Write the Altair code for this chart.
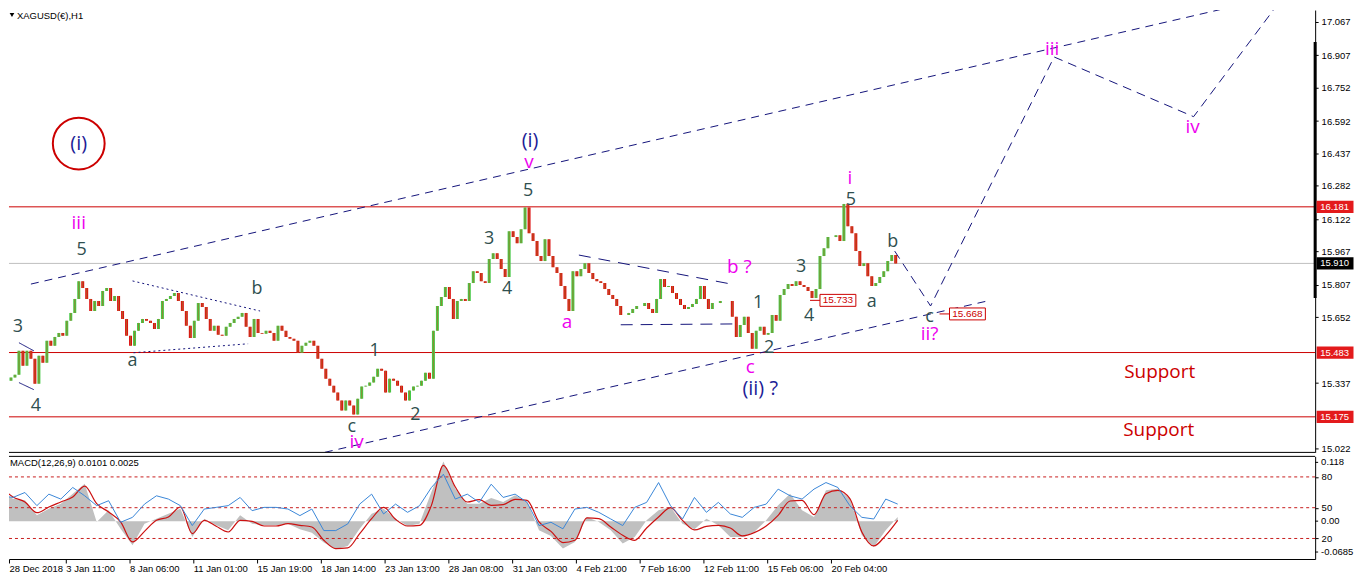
import json
import altair as alt
import pandas as pd

# ---------------- data ----------------
# closes of 4-hour groups of H1 bars (28 Dec 2018 -> 21 Feb 2019)
closes = [
    15.277, 15.348, 15.363, 15.377, 15.491, 15.420, 15.491, 15.453, 15.334, 15.468,
    15.434, 15.539, 15.515, 15.558, 15.577, 15.563, 15.635, 15.673, 15.740, 15.825,
    15.792, 15.740, 15.682, 15.730, 15.706, 15.778, 15.792, 15.730, 15.754, 15.682,
    15.644, 15.563, 15.515, 15.587, 15.625, 15.644, 15.635, 15.625, 15.596, 15.644,
    15.730, 15.740, 15.754, 15.768, 15.730, 15.682, 15.611, 15.553, 15.635, 15.720,
    15.701, 15.644, 15.587, 15.611, 15.568, 15.563,
    15.606, 15.625, 15.644, 15.654, 15.673, 15.606, 15.558, 15.644, 15.577, 15.573,
    15.587, 15.577, 15.539, 15.611, 15.587, 15.558, 15.549, 15.539, 15.482, 15.515,
    15.530, 15.539, 15.515, 15.453, 15.405, 15.358, 15.324, 15.291, 15.253, 15.205,
    15.253, 15.229, 15.186, 15.262, 15.320, 15.324, 15.339, 15.367, 15.405, 15.396,
    15.291, 15.358, 15.348, 15.324, 15.291, 15.253, 15.301, 15.320, 15.324, 15.348,
    15.386, 15.358, 15.587, 15.706, 15.749, 15.797, 15.740, 15.644, 15.730, 15.740,
    15.730, 15.816, 15.873, 15.864, 15.825, 15.816, 15.931, 15.959, 15.931, 15.883,
    15.845, 16.064, 16.036, 16.007, 16.074, 16.178, 16.055, 16.017, 15.945, 15.921,
    16.026, 15.945, 15.892, 15.864, 15.802, 15.740, 15.682, 15.873, 15.849, 15.883,
    15.911, 15.864, 15.835, 15.825, 15.816, 15.787, 15.759, 15.740, 15.706, 15.663,
    15.663, 15.673, 15.692, 15.706, 15.706, 15.720, 15.692, 15.673, 15.740, 15.835,
    15.797, 15.802, 15.768, 15.740, 15.711, 15.692, 15.701, 15.716, 15.740, 15.802,
    15.740, 15.692, 15.720, 15.720, 15.730, 15.730, 15.730, 15.654, 15.558, 15.615,
    15.654, 15.577, 15.501, 15.587, 15.606, 15.568, 15.577, 15.663, 15.635, 15.759,
    15.787, 15.811, 15.802, 15.825, 15.806, 15.797, 15.778, 15.744, 15.787, 15.945,
    15.983, 16.036, 16.036, 16.045, 16.017, 16.195, 16.088, 16.055, 15.969, 15.897,
    15.911, 15.849, 15.802, 15.816, 15.845, 15.873, 15.921, 15.950, 15.910,
]

# MACD histogram (grey), signal (red) and oscillator (blue), every 12 bars
macd_hist = [
    0.0532, 0.0411, 0.0381, 0.0109, 0.0230, 0.0321, 0.0502, 0.0684, -0.0012, 0.0200,
    -0.0133, -0.0436, -0.0042, 0.0048, 0.0139, 0.0230, -0.0284, 0.0048, -0.0073, -0.0163,
    0.0109, -0.0042, -0.0073, -0.0073, -0.0042, -0.0145, -0.0206, -0.0387, -0.0508, -0.0448,
    -0.0133, 0.0139, 0.0230, 0.0048, -0.0085, -0.0042, 0.0532, 0.1089, 0.0593, 0.0321,
    0.0321, 0.0424, 0.0351, 0.0472, 0.0351, -0.0163, -0.0266, -0.0496, -0.0375, 0.0079,
    -0.0012, -0.0163, -0.0405, -0.0284, 0.0018, 0.0200, 0.0260, -0.0042, -0.0145, 0.0048,
    -0.0073, -0.0284, -0.0284, -0.0194, 0.0018, 0.0290, 0.0502, 0.0200, 0.0079, 0.0563,
    0.0593, 0.0411, -0.0254, -0.0466, -0.0163, 0.0079,
]
macd_signal = [
    0.0623, 0.0442, 0.0351, 0.0157, 0.0260, 0.0351, 0.0442, 0.0641, 0.0321, 0.0169,
    -0.0012, -0.0375, -0.0182, 0.0018, 0.0079, 0.0260, -0.0224, 0.0018, -0.0091, -0.0194,
    0.0018, 0.0000, -0.0085, -0.0085, -0.0042, -0.0073, -0.0103, -0.0345, -0.0496, -0.0484,
    -0.0224, 0.0048, 0.0254, 0.0036, -0.0085, -0.0073, 0.0290, 0.1016, 0.0623, 0.0351,
    0.0393, 0.0290, 0.0303, 0.0399, 0.0381, -0.0012, -0.0182, -0.0387, -0.0345, 0.0061,
    0.0048, -0.0103, -0.0254, -0.0345, -0.0121, 0.0079, 0.0248, 0.0018, -0.0157, -0.0091,
    -0.0073, -0.0121, -0.0266, -0.0206, -0.0085, 0.0109, 0.0369, 0.0381, 0.0121, 0.0502,
    0.0563, 0.0411, -0.0194, -0.0448, -0.0254, 0.0018,
]
osc_line = [
    61.6, 60.0, 64.8, 52.0, 63.2, 58.4, 69.7, 61.6, 52.0, 56.8,
    35.8, 40.6, 53.5, 61.6, 58.4, 52.0, 32.6, 48.7, 50.3, 52.0,
    60.0, 47.1, 50.3, 50.3, 48.7, 42.3, 48.7, 27.7, 27.7, 34.2,
    53.5, 63.2, 43.9, 53.5, 45.5, 51.9, 69.7, 82.6, 58.4, 63.2,
    55.2, 72.9, 60.0, 63.2, 55.2, 32.6, 35.8, 29.4, 48.7, 50.3,
    45.5, 39.0, 32.6, 50.3, 55.2, 74.5, 51.9, 39.0, 60.0, 45.5,
    55.2, 43.9, 40.6, 50.3, 53.5, 68.1, 61.6, 58.4, 68.1, 74.5,
    69.7, 51.9, 40.6, 39.0, 58.4, 53.5,
]

date_labels = ["28 Dec 2018", "3 Jan 11:00", "8 Jan 06:00", "11 Jan 01:00", "15 Jan 19:00",
               "18 Jan 14:00", "23 Jan 13:00", "28 Jan 08:00", "31 Jan 03:00", "4 Feb 21:00",
               "7 Feb 16:00", "12 Feb 11:00", "15 Feb 06:00", "20 Feb 04:00"]
price_ticks = [17.067, 16.907, 16.752, 16.592, 16.437, 16.282, 16.122, 15.967,
               15.807, 15.652, 15.337, 15.022]
level_prices = [16.181, 15.483, 15.175]
last_price = 15.910
osc_levels = [80, 50, 20]
marker_prices = [15.733, 15.668]

HOURS_PER_CANDLE = 4
HOURS_PER_MACD = 12
HOURS_PER_LABEL = 64

# wave labels: (text, bar index, price, kind)
wave_labels = [
    ("(i)", 78, 16.484, "navy"),
    ("iii", 78, 16.102, "mag"), ("5", 81, 15.974, "dark"), ("3", 17, 15.606, "dark"),
    ("4", 35, 15.229, "dark"), ("a", 132, 15.444, "dark"), ("b", 257, 15.787, "dark"),
    ("c", 352, 15.124, "dark"), ("iv", 357, 15.052, "mag"), ("1", 375, 15.491, "dark"),
    ("2", 416, 15.186, "dark"), ("(i)", 531, 16.498, "navy"), ("v", 530, 16.398, "mag"),
    ("5", 529, 16.255, "dark"), ("3", 490, 16.026, "dark"), ("4", 508, 15.787, "dark"),
    ("a", 568, 15.630, "mag"), ("b ?", 741, 15.892, "mag"), ("1", 760, 15.720, "dark"),
    ("2", 771, 15.506, "dark"), ("c", 752, 15.415, "mag"), ("(ii) ?", 762, 15.310, "navy"),
    ("3", 803, 15.892, "dark"), ("4", 811, 15.659, "dark"), ("i", 852, 16.317, "mag"),
    ("5", 853, 16.212, "dark"), ("b", 895, 16.012, "dark"), ("a", 874, 15.725, "dark"),
    ("c", 932, 15.651, "dark"), ("ii?", 932, 15.571, "mag"), ("iii", 1055, 16.938, "mag"),
    ("iv", 1196, 16.565, "mag"), ("Support", 1163, 15.391, "sup"), ("Support", 1162, 15.110, "sup"),
]

# drawn lines: name -> (style, [(bar, price), ...])
paths = {
    "upper_channel": ("channel", [(30, 15.811), (1290, 17.199)]),
    "lower_channel": ("channel", [(325, 15.005), (990, 15.730)]),
    "projection": ("projection", [(897, 15.969), (933, 15.706), (1057, 16.899), (1197, 16.613), (1295, 17.238)]),
    "tri_top": ("dotted", [(132, 15.826), (260, 15.682)]),
    "tri_bottom": ("dotted", [(133, 15.482), (248, 15.525)]),
    "w3": ("solid", [(18, 15.530), (33, 15.491)]),
    "w4": ("solid", [(18, 15.339), (33, 15.305)]),
    "feb_top": ("dashed", [(580, 15.950), (733, 15.811)]),
    "feb_bottom": ("dashed", [(622, 15.616), (735, 15.620)]),
}
marker_links = [(812, 822), (942, 953)]
marker_box_bars = [840, 970]

# ---------------- layout / style ----------------
W, H_MAIN, H_MACD = 1311, 444, 103
xs = alt.Scale(domain=[8, 1319], nice=False, zero=False)
ps = alt.Scale(domain=[15.0046, 17.1238], nice=False, zero=False)
ms = alt.Scale(domain=[-0.0685, 0.118], nice=False, zero=False)
oscs = alt.Scale(domain=[0, 100], nice=False, zero=False)
AXF = "Liberation Sans"
WF = "Open Sans"
NAVY = "#14147a"
RED = "#cc0000"
colors = {"navy": "#1c1c96", "mag": "#ee00ee", "dark": "#2f4f4f", "sup": "#cc0000"}
sizes = {"navy": 20, "mag": 19, "dark": 18, "sup": 19}
one = pd.DataFrame({"k": [0]})
BOX = "M-1,-0.333H1V0.333H-1Z"

xn = alt.X("t:Q", scale=xs, axis=None)
price_axis = alt.Axis(orient="right", values=price_ticks, format=".3f", title=None, grid=False,
                      labelFont=AXF, labelFontSize=9.5, labelColor="#000", tickColor="#000",
                      tickSize=3, domainColor="#000", labelPadding=3, labelOverlap=False,
                      labelFlush=False)


def py(field):
    return alt.Y(field, type="quantitative", scale=ps, axis=price_axis)


# ---------------- main panel ----------------
levels = alt.Chart(pd.DataFrame({"p": level_prices})).mark_rule(color=RED, strokeWidth=1).encode(y=py("p"))
cur = alt.Chart(pd.DataFrame({"p": [last_price]})).mark_rule(color="#c0c0c0", strokeWidth=1).encode(y=py("p"))

opens = [closes[0]] + closes[:-1]
cdf = pd.DataFrame({"t": [HOURS_PER_CANDLE * i + 2 for i in range(len(closes))], "o": opens, "c": closes})
cdf["lo"] = cdf[["o", "c"]].min(axis=1)
cdf["hi"] = cdf[["o", "c"]].max(axis=1)
cdf["dir"] = ["up" if c >= o else "down" for o, c in zip(opens, closes)]
candles = alt.Chart(cdf).mark_rule(strokeWidth=3, clip=True).encode(
    x=xn, y=py("lo"), y2="hi:Q",
    color=alt.Color("dir:N", scale=alt.Scale(domain=["up", "down"], range=["#46c846", "#dd1010"]), legend=None))
wicks = alt.Chart(cdf).mark_rule(strokeWidth=1, clip=True, color="#a8742a", opacity=0.75).encode(
    x=xn, y=py("lo"), y2="hi:Q")

rows = []
for name, (style, pts) in paths.items():
    for j, (t, p) in enumerate(pts):
        rows.append({"id": name, "style": style, "ord": j, "t": t, "p": p})
ldf = pd.DataFrame(rows)
lines = alt.Chart(ldf).mark_line(clip=True, color=NAVY, strokeWidth=1).encode(
    x=xn, y=py("p"), detail="id:N", order="ord:Q",
    strokeDash=alt.StrokeDash("style:N", legend=None, scale=alt.Scale(
        domain=["channel", "projection", "dotted", "solid", "dashed"],
        range=[[8, 6], [9, 6], [2, 3], [1, 0], [12, 8]])))

mrows = []
for i, ((a, b), p) in enumerate(zip(marker_links, marker_prices)):
    mrows += [{"id": i, "t": a, "p": p}, {"id": i, "t": b, "p": p}]
links = alt.Chart(pd.DataFrame(mrows)).mark_line(color=RED, strokeWidth=1).encode(
    x=xn, y=py("p"), detail="id:N")
bdf = pd.DataFrame({"t": marker_box_bars, "p": marker_prices, "lab": [f"{v:.3f}" for v in marker_prices]})
boxes = alt.Chart(bdf).mark_point(shape=BOX, size=1296, fill="white", stroke=RED, strokeWidth=1,
                                  opacity=1, fillOpacity=1).encode(x=xn, y=py("p"))
box_txt = alt.Chart(bdf).mark_text(color=RED, font=AXF, fontSize=10).encode(
    x=xn, y=py("p"), text="lab:N")

circle = alt.Chart(pd.DataFrame({"t": [78], "p": [16.484]})).mark_point(
    shape="circle", size=2704, filled=False, stroke=RED, strokeWidth=2, opacity=1).encode(
    x=xn, y=py("p"))

wdf = pd.DataFrame([{"txt": s, "t": t, "p": p, "col": colors[k], "fs": sizes[k]} for s, t, p, k in wave_labels])
waves = alt.Chart(wdf).mark_text(font=WF, align="center", baseline="middle").encode(
    x=xn, y=py("p"), text="txt:N",
    color=alt.Color("col:N", scale=None), size=alt.Size("fs:Q", scale=None))

title_txt = alt.Chart(one).mark_text(text="XAGUSD(€),H1", align="left", baseline="top", font=AXF,
                                     fontSize=9.5, color="#000").encode(x=alt.value(8), y=alt.value(1))
title_tri = alt.Chart(one).mark_point(shape="triangle-down", size=22, filled=True, color="#000",
                                      opacity=1).encode(x=alt.value(3), y=alt.value(5))
bottom_border = alt.Chart(one).mark_rule(color="#000").encode(
    x=alt.value(0), x2=alt.value(W), y=alt.value(H_MAIN))
range_bar = alt.Chart(pd.DataFrame({"a": [16.971], "b": [15.744]})).mark_rule(color="#000", strokeWidth=3).encode(
    x=alt.value(W), y=py("a"), y2="b:Q")

hl = pd.DataFrame({"p": level_prices + [last_price],
                   "fill": ["#e31a1c"] * len(level_prices) + ["#000000"],
                   "lab": [f"{v:.3f}" for v in level_prices + [last_price]]})
hl_box = alt.Chart(hl).mark_point(shape=BOX, size=1369, filled=True, opacity=1).encode(
    x=alt.value(W + 20), y=py("p"), color=alt.Color("fill:N", scale=None))
hl_txt = alt.Chart(hl).mark_text(align="left", baseline="middle", font=AXF, fontSize=9.5, color="white").encode(
    x=alt.value(W + 5), y=py("p"), text="lab:N")

main = alt.layer(levels, cur, candles, wicks, lines, links, boxes, box_txt, circle, waves,
                 title_tri, title_txt, bottom_border, range_bar, hl_box, hl_txt).properties(
    width=W, height=H_MAIN)

# ---------------- MACD panel ----------------
mdf = pd.DataFrame({"t": [HOURS_PER_MACD * k for k in range(len(macd_hist))],
                    "h": macd_hist, "s": macd_signal, "o": osc_line})
tick_vals = [8] + [HOURS_PER_LABEL * k + 1 for k in range(1, len(date_labels))]
label_expr = f"{json.dumps(date_labels)}[round((datum.value - 1) / {HOURS_PER_LABEL})]"
date_axis = alt.Axis(values=tick_vals, labelExpr=label_expr, title=None, grid=False,
                     labelAlign="left", labelBaseline="top", labelFont=AXF, labelFontSize=9.5,
                     labelColor="#000", tickColor="#000", tickSize=4, domainColor="#000",
                     labelPadding=1, labelOverlap=False, labelFlush=False)
xd = alt.X("t:Q", scale=xs, axis=date_axis)
osc_axis = alt.Axis(orient="right", values=osc_levels, title=None, grid=False, labelFont=AXF,
                    labelFontSize=9.5, labelColor="#000", tickColor="#000", tickSize=3,
                    domainColor="#000", labelPadding=3, labelOverlap=False, labelFlush=False)

hist = alt.Chart(mdf).mark_area(color="#c0c0c0", clip=True).encode(
    x=xd, y=alt.Y("h:Q", scale=ms, axis=None), y2=alt.datum(0))
lev = alt.Chart(pd.DataFrame({"v": osc_levels})).mark_rule(color="#c81e1e", strokeDash=[3, 3]).encode(
    y=alt.Y("v:Q", scale=oscs, axis=None))
sig = alt.Chart(mdf).mark_line(color="#cc1111", strokeWidth=1.2, clip=True, interpolate="monotone").encode(
    x=xd, y=alt.Y("s:Q", scale=ms, axis=None))
osc = alt.Chart(mdf).mark_line(color="#3a87d8", strokeWidth=1, clip=True).encode(
    x=xd, y=alt.Y("o:Q", scale=oscs, axis=osc_axis))
macd_title = alt.Chart(one).mark_text(text="MACD(12,26,9) 0.0101 0.0025", align="left", baseline="top",
                                      font=AXF, fontSize=9.5, color="#000").encode(x=alt.value(1), y=alt.value(2))
top_border = alt.Chart(one).mark_rule(color="#000").encode(x=alt.value(0), x2=alt.value(W), y=alt.value(0))
rl = pd.DataFrame({"lab": ["0.118", "0.00", "-0.0685"], "yy": [6, 65, 96]})
right_lab = alt.Chart(rl).mark_text(align="left", baseline="middle", font=AXF, fontSize=9.5, color="#000").encode(
    x=alt.value(W + 6), y=alt.Y("yy:Q", scale=None), text="lab:N")
right_tick = alt.Chart(rl).mark_rule(color="#000").encode(
    x=alt.value(W), x2=alt.value(W + 3), y=alt.Y("yy:Q", scale=None))

macd = alt.layer(hist, lev, sig, osc, macd_title, top_border, right_tick, right_lab).resolve_scale(
    y="independent").properties(width=W, height=H_MACD)

chart = alt.vconcat(main, macd, spacing=4, bounds="flush").properties(padding=0).configure_view(
    stroke="transparent")

chart.save("out.html", embed_options={"renderer": "svg", "actions": False})
